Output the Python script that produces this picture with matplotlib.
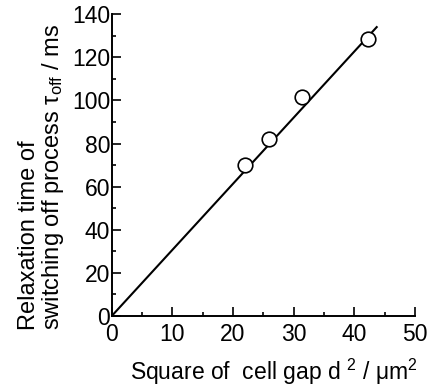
import matplotlib
matplotlib.use("Agg")
import matplotlib.pyplot as plt
from matplotlib.ticker import MultipleLocator

plt.rcParams['font.family'] = ['Liberation Sans', 'DejaVu Sans']
plt.rcParams['mathtext.fontset'] = 'custom'
plt.rcParams['mathtext.rm'] = 'Liberation Sans'
plt.rcParams['mathtext.it'] = 'Liberation Sans'

# data
d2 = [22.0, 26.0, 31.3, 42.3]
tau_off = [70.2, 81.9, 101.5, 128.4]
fit_x = [0.0, 43.7]
fit_y = [0.0, 134.0]
x_ticks = [0, 10, 20, 30, 40, 50]
y_ticks = [0, 20, 40, 60, 80, 100, 120, 140]

fig = plt.figure(figsize=(4.35, 3.91), dpi=100)
ax = fig.add_axes([0.2568, 0.1918, 0.697, 0.772])

ax.plot(fit_x, fit_y, color='black', lw=1.5, zorder=2)
ax.plot(d2, tau_off, 'o', ms=10.5, mfc='white', mec='black', mew=1.2, zorder=3)

ax.set_xlim(0, 50)
ax.set_ylim(0, 140)
ax.set_xticks(x_ticks)
ax.set_yticks(y_ticks)
ax.xaxis.set_minor_locator(MultipleLocator(5))
ax.yaxis.set_minor_locator(MultipleLocator(10))
ax.tick_params(which='both', direction='in', width=1.2, labelsize=16.5)
ax.tick_params(which='major', length=6.5)
ax.tick_params(which='minor', length=3)
ax.tick_params(axis='x', pad=5)
ax.tick_params(axis='y', pad=1)
for s in ['top', 'right']:
    ax.spines[s].set_visible(False)
for s in ['left', 'bottom']:
    ax.spines[s].set_linewidth(1.4)

ax.set_xlabel(r"Square of  cell gap d $^{2}$ / $\mathrm{\mu}$m$^{2}$", fontsize=16.5)
ax.xaxis.set_label_coords(0.535, -0.135)
ax.set_ylabel("Relaxation time of\n" + r"switching off process $\tau_{\mathrm{off}}$ / ms",
              fontsize=17, linespacing=1.0, multialignment='left')
ax.yaxis.set_label_coords(-0.15, 0.46)

fig.savefig("out.png", dpi=100)
